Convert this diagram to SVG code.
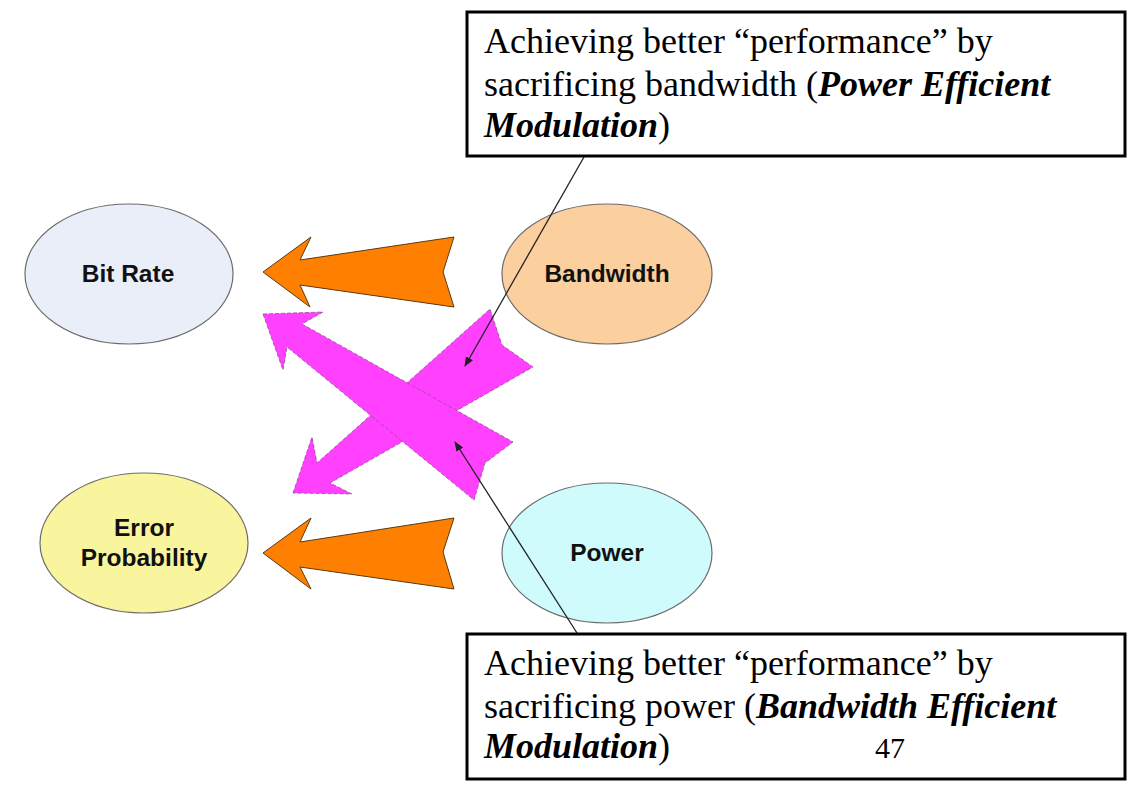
<svg xmlns="http://www.w3.org/2000/svg" width="1144" height="807" viewBox="0 0 1144 807">
<style>
.node ellipse{stroke:#6b6b6b;stroke-width:1.2}
.lbl{font-family:"Liberation Sans",Arial,sans-serif;font-weight:bold;font-size:24.5px;fill:#111;text-anchor:middle}
.orange{fill:#FF8000;stroke:#5a3a10;stroke-width:1}
.magenta{fill:#FF40FF;stroke:#9a4a9a;stroke-width:0.8;stroke-dasharray:4 2}
.box rect{fill:#fff;stroke:#000;stroke-width:3}
.box text{font-family:"Liberation Serif","Times New Roman",serif;font-size:36px;fill:#000}
.bi{font-weight:bold;font-style:italic}
.lead{stroke:#222;stroke-width:1.3;fill:none;marker-end:url(#ah)}
</style>
<defs>
<marker id="ah" viewBox="0 0 10 10" refX="9" refY="5" markerWidth="10" markerHeight="10" markerUnits="userSpaceOnUse" orient="auto">
<path d="M0,1 L10,5 L0,9 Z" fill="#222"/>
</marker>
</defs>
<rect width="1144" height="807" fill="#fff"/>

<g id="node-bitrate" class="node">
<ellipse cx="129" cy="274" rx="104" ry="70" fill="#EAEEF8"/>
<text class="lbl" x="128" y="282">Bit Rate</text>
</g>
<g id="node-error" class="node">
<ellipse cx="144" cy="543" rx="104" ry="70" fill="#F9F59E"/>
<text class="lbl" x="144" y="536">Error</text>
<text class="lbl" x="144" y="566">Probability</text>
</g>
<g id="node-bandwidth" class="node">
<ellipse cx="607" cy="274" rx="105" ry="70" fill="#FCCF9F"/>
<text class="lbl" x="607" y="282">Bandwidth</text>
</g>
<g id="node-power" class="node">
<ellipse cx="607" cy="553" rx="105" ry="70" fill="#CFFBFD"/>
<text class="lbl" x="607" y="561">Power</text>
</g>

<g id="connectors">
<polygon class="orange" points="263,272 311,237 300,260 454,237 443,272 454,307 300,285 310,307"/>
<polygon class="orange" points="263,553 311,518 300,542 454,518 443,552 454,589 300,567 311,589"/>
<polygon class="magenta" points="293,493 312,437 317,463 490,309 502,345 533,367 330,483 352,494"/>
<polygon class="magenta" points="263,314 323,312 302,324 513,442 485,463 474,500 287,347 283,370"/>
<line class="lead" x1="584" y1="157" x2="465" y2="366"/>
<line class="lead" x1="577" y1="633" x2="455" y2="442"/>
</g>

<g id="callout-top" class="box">
<rect x="467" y="12" width="658" height="144"/>
<text x="484" y="53">Achieving better “performance” by</text>
<text x="484" y="96">sacrificing bandwidth (<tspan class="bi">Power Efficient</tspan></text>
<text x="484" y="137"><tspan class="bi">Modulation</tspan>)</text>
</g>
<g id="callout-bottom" class="box">
<rect x="467" y="634" width="658" height="145"/>
<text x="484" y="675">Achieving better “performance” by</text>
<text x="484" y="718">sacrificing power (<tspan class="bi">Bandwidth Efficient</tspan></text>
<text x="484" y="758"><tspan class="bi">Modulation</tspan>)</text>
<text x="890" y="758" style="font-size:30px" text-anchor="middle">47</text>
</g>
</svg>
